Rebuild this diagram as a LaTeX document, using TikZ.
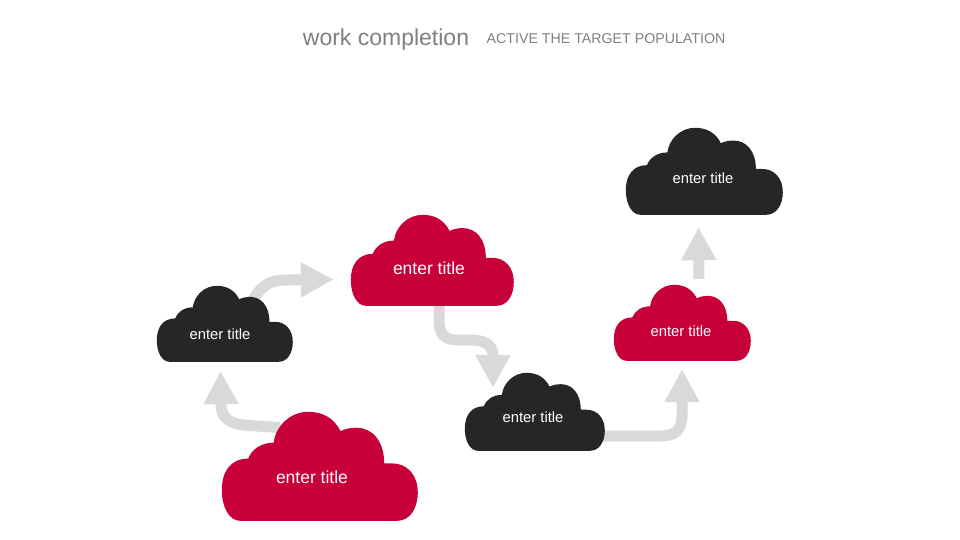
\documentclass[tikz,border=0pt]{standalone}
\usepackage{fontspec}
\setmainfont{Liberation Sans}
\usetikzlibrary{arrows.meta,backgrounds}
\definecolor{cloudred}{HTML}{C8003A}
\definecolor{cloudblack}{HTML}{262626}
\definecolor{flowgray}{HTML}{D9D9D9}
\definecolor{titlegray}{HTML}{7F7F7F}
\tikzset{
    cloudbox/.style n args={3}{minimum width=#1pt, minimum height=#2pt, inner sep=0pt,
      append after command={\pgfextra{\fill[#3, shift={(\tikzlastnode.north west)}, xscale={#1/408}, yscale={#2/226}]
        (38,226) .. controls (15,226) and (0,197) .. (0,162)
        .. controls (0,122) and (20,97) .. (55,97)
        .. controls (62,78) and (82,64) .. (108,64)
        .. controls (112,30) and (142,0) .. (180,0)
        .. controls (212,0) and (235,15) .. (247,40)
        .. controls (258,35) and (268,33) .. (280,33)
        .. controls (313,33) and (338,60) .. (338,107)
        -- (355,107) .. controls (385,107) and (408,130) .. (408,167)
        .. controls (408,200) and (392,226) .. (365,226) -- cycle;}}},
    cloudtext/.style={text=white, font=\fontsize{#1}{#1}\selectfont, inner sep=0pt},
    flow/.style={draw=flowgray, line width=11pt, -{Triangle[width=33pt,length=33pt,fill=flowgray]}}
}
\begin{document}
\begin{tikzpicture}[x=1pt,y=-1pt]
  \path[use as bounding box] (0,0) rectangle (960,540);

  \node[text=titlegray, font=\fontsize{23}{23}\selectfont, inner sep=0pt] (title) at (386,40) {work completion};
  \node[text=titlegray, font=\fontsize{14.2}{14.2}\selectfont, inner sep=0pt] (subtitle) at (606,39) {ACTIVE THE TARGET POPULATION};

  \node[cloudbox={196}{109}{cloudred}] (cloudA) at (320,466.5) {};
  \node[cloudbox={136}{76}{cloudblack}] (cloudB) at (225,324) {};
  \node[cloudbox={163}{91}{cloudred}] (cloudC) at (432.5,260.5) {};
  \node[cloudbox={140}{78}{cloudblack}] (cloudD) at (535,412) {};
  \node[cloudbox={137}{76}{cloudred}] (cloudE) at (682.5,323) {};
  \node[cloudbox={157}{87}{cloudblack}] (cloudF) at (704.5,171.5) {};

  \node[cloudtext=17.5] (textA) at (312,477) {enter title};
  \node[cloudtext=14.8] (textB) at (220,334) {enter title};
  \node[cloudtext=17.5] (textC) at (429,268.5) {enter title};
  \node[cloudtext=14.8] (textD) at (533,417.5) {enter title};
  \node[cloudtext=14.8] (textE) at (681,331) {enter title};
  \node[cloudtext=14.8] (textF) at (703,178) {enter title};

  \begin{scope}[on background layer]
    \draw[flow] ([xshift=-40pt,yshift=-16pt]cloudA.north) .. controls (250,424) and (221,430) .. (221,404) -- ([xshift=-4.5pt,yshift=-9pt]cloudB.south);
    \draw[flow] ([xshift=25pt,yshift=-19pt]cloudB.north) .. controls (260,287) and (268,280) .. (285,280) -- ([xshift=-17pt,yshift=-19pt]cloudC.west);
    \draw[flow] ([xshift=6.5pt,yshift=6pt]cloudC.south) -- (439,320) .. controls (439,335) and (445,340) .. (458,340) -- (470,340) .. controls (485,340) and (493,345) .. (493,356) -- ([xshift=-42pt,yshift=-15pt]cloudD.north);
    \draw[flow] ([xshift=-5pt,yshift=-24pt]cloudD.east) -- (660,436) .. controls (675,436) and (682,430) .. (682,415) -- ([xshift=-0.5pt,yshift=-8pt]cloudE.south);
    \draw[flow] ([xshift=16.5pt,yshift=6pt]cloudE.north) -- ([xshift=-6pt,yshift=-12pt]cloudF.south);
  \end{scope}
\end{tikzpicture}
\end{document}
